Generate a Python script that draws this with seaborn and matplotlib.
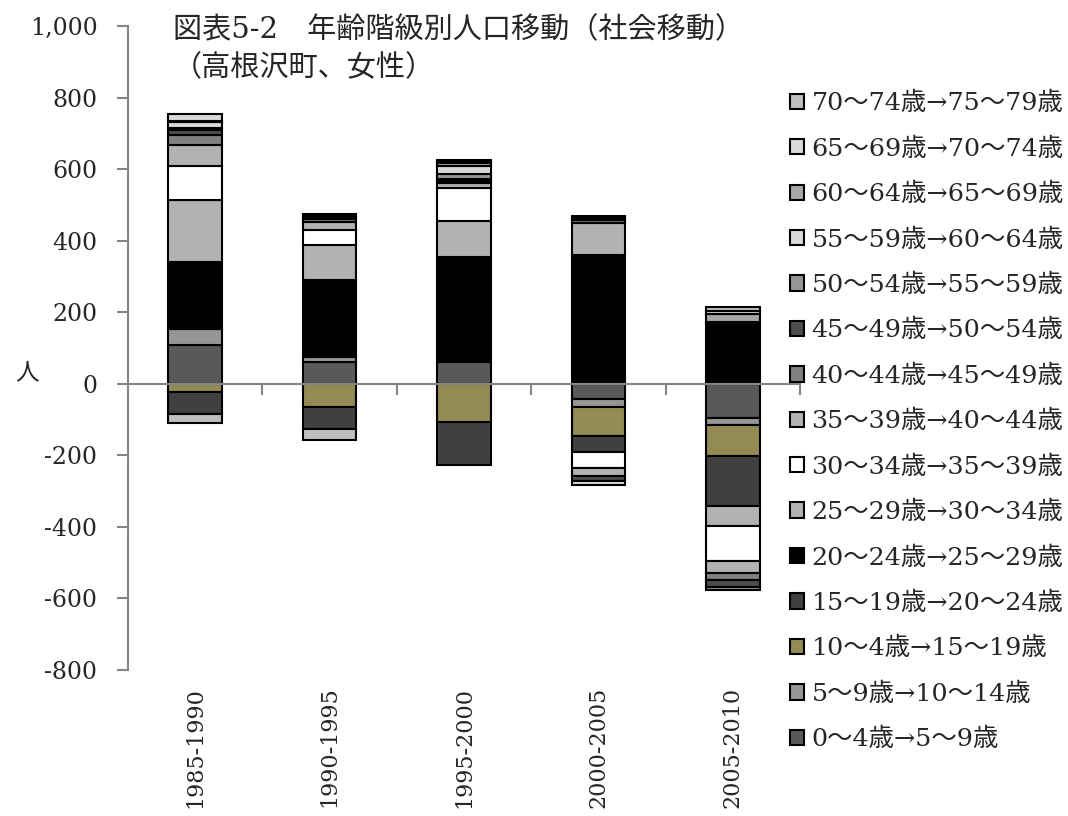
import numpy as np
import pandas as pd
import matplotlib
matplotlib.use("Agg")
import matplotlib.pyplot as plt
import seaborn as sns

periods = ["1985-1990", "1990-1995", "1995-2000", "2000-2005", "2005-2010"]

age_labels = [
    "0～4歳→5～9歳", "5～9歳→10～14歳", "10～4歳→15～19歳", "15～19歳→20～24歳",
    "20～24歳→25～29歳", "25～29歳→30～34歳", "30～34歳→35～39歳", "35～39歳→40～44歳",
    "40～44歳→45～49歳", "45～49歳→50～54歳", "50～54歳→55～59歳", "55～59歳→60～64歳",
    "60～64歳→65～69歳", "65～69歳→70～74歳", "70～74歳→75～79歳",
]

# net migration per cohort (persons), one list per age group
a00_04 = [109, 62, 61, -42, -95]
a05_09 = [45, 14, 0, -24, -20]
a10_14 = [-22, -65, -108, -80, -88]
a15_19 = [-63, -61, -120, -45, -138]
a20_24 = [185, 214, 294, 359, 171]
a25_29 = [174, 98, 100, 90, -56]
a30_34 = [96, 42, 93, -45, -98]
a35_39 = [58, 23, 14, -22, -35]
a40_44 = [29, 8, 5, 8, -18]
a45_49 = [14, 4, 6, -14, -20]
a50_54 = [5, 3, 14, 4, -8]
a55_59 = [17, 2, 22, 3, 3]
a60_64 = [3, 3, 9, 3, 20]
a65_69 = [19, 2, 4, -12, 10]
a70_74 = [-25, -30, 3, 2, 10]

series = [a00_04, a05_09, a10_14, a15_19, a20_24, a25_29, a30_34, a35_39,
          a40_44, a45_49, a50_54, a55_59, a60_64, a65_69, a70_74]

colors = ["#595959", "#969696", "#948A54", "#404040", "#000000", "#B2B2B2", "#FFFFFF",
          "#B2B2B2", "#808080", "#4D4D4D", "#969696", "#D9D9D9", "#A6A6A6", "#D9D9D9",
          "#BFBFBF"]

sns.set_theme(style="white")
plt.rcParams["font.family"] = ["DejaVu Serif", "Noto Sans CJK JP"]

fig = plt.figure(figsize=(10.68, 8.16), dpi=100)
ax = fig.add_axes([128 / 1068, 146 / 816, 672 / 1068, 644 / 816])

pos_base = np.zeros(len(periods))
neg_base = np.zeros(len(periods))
for vals, col, lab in zip(series, colors, age_labels):
    v = np.array(vals, dtype=float)
    bottom = np.where(v >= 0, pos_base, neg_base)
    df = pd.DataFrame({"period": periods, "value": v})
    sns.barplot(data=df, x="period", y="value", order=periods, color=col,
                saturation=1, width=0.4, bottom=bottom, edgecolor="black",
                linewidth=1.5, errorbar=None, label=lab, ax=ax)
    pos_base += np.where(v > 0, v, 0)
    neg_base += np.where(v < 0, v, 0)

for p in ax.patches:
    if p.get_height() == 0:
        p.set_visible(False)

ax.set_xlim(-0.5, 4.5)
ax.set_ylim(-800, 1000)
ax.set_yticks(np.arange(-800, 1001, 200))
ax.set_yticklabels([f"{t:,}" for t in range(-800, 1001, 200)], fontsize=17)
ax.tick_params(axis="y", direction="out", length=8, width=1.5, color="#868686",
               pad=14, left=True)

# category axis crosses at zero, labels sit at the bottom
for s in ["top", "right"]:
    ax.spines[s].set_visible(False)
ax.spines["left"].set_color("#868686")
ax.spines["left"].set_linewidth(1.5)
ax.spines["bottom"].set_position(("data", 0))
ax.spines["bottom"].set_color("#868686")
ax.spines["bottom"].set_linewidth(1.5)
ax.set_xticks(np.arange(-0.5, 4.6, 1.0))
ax.set_xticklabels([])
ax.tick_params(axis="x", direction="out", length=8, width=1.5, color="#868686", bottom=True)
ax.set_xlabel("")

sec = ax.secondary_xaxis("bottom")
sec.set_xticks(range(len(periods)))
sec.set_xticklabels(periods, rotation=90, fontsize=16, va="top")
sec.tick_params(length=0, pad=12)
sec.spines["bottom"].set_visible(False)

ax.set_ylabel("人", rotation=0, fontsize=17)
ax.yaxis.set_label_coords(-0.15, 0.444)

fig.text(173 / 1068, 1 - 16 / 816,
         "図表5-2　年齢階級別人口移動（社会移動）\n（高根沢町、女性）",
         fontsize=21, va="top", ha="left", linespacing=1.45)

h, l = ax.get_legend_handles_labels()
ax.legend(h[::-1], l[::-1], loc="upper left", bbox_to_anchor=(790 / 1068, 1 - 92 / 816),
          bbox_transform=fig.transFigure, frameon=False, fontsize=18.3,
          handlelength=0.55, handleheight=0.55, handletextpad=0.3, labelspacing=0.87,
          borderaxespad=0, borderpad=0)

fig.savefig("out.png", dpi=100)
